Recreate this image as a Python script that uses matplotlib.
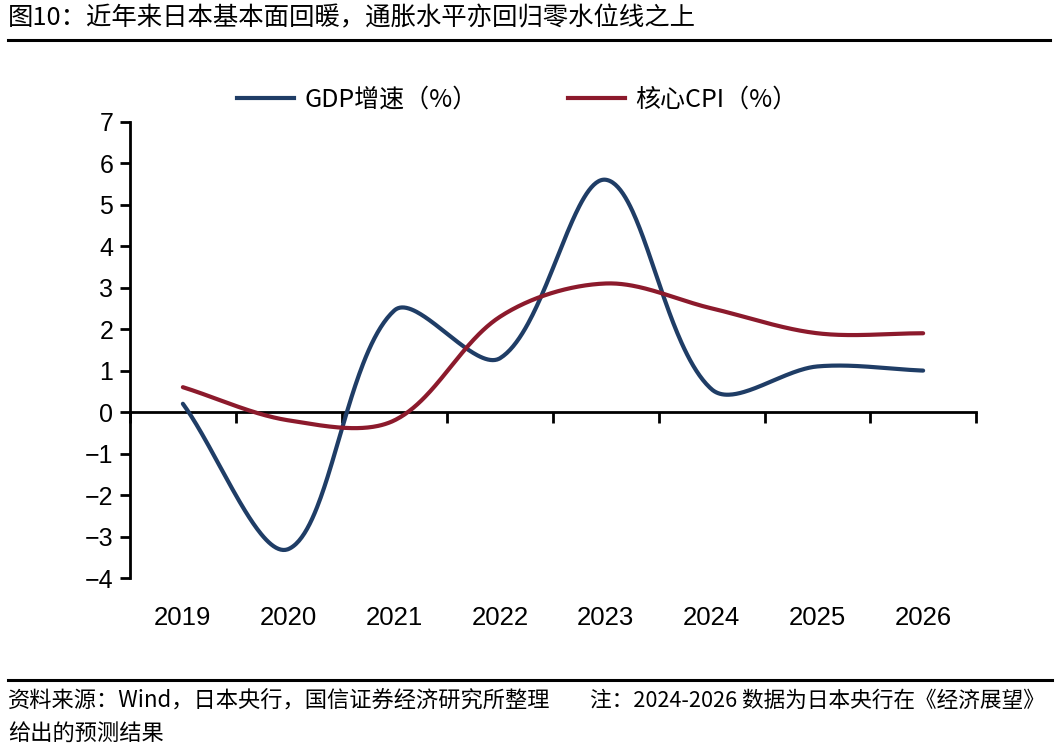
import numpy as np
import matplotlib
matplotlib.use("Agg")
import matplotlib.pyplot as plt
from matplotlib.lines import Line2D
from matplotlib.ticker import FixedLocator

# ---- data ----
years = ["2019", "2020", "2021", "2022", "2023", "2024", "2025", "2026"]
gdp_growth = [0.2, -3.3, 2.45, 1.3, 5.6, 0.55, 1.1, 1.0]
core_cpi = [0.6, -0.2, -0.2, 2.3, 3.1, 2.5, 1.9, 1.9]
y_ticks = [-4, -3, -2, -1, 0, 1, 2, 3, 4, 5, 6, 7]
series_names = ["GDP增速（%）", "核心CPI（%）"]

title = "图10：近年来日本基本面回暖，通胀水平亦回归零水位线之上"
source = "资料来源：Wind，日本央行，国信证券经济研究所整理"
note_1 = "注：2024-2026 数据为日本央行在《经济展望》"
note_2 = "给出的预测结果"

BLUE = "#1f3d66"
RED = "#8c1a2c"
CJK = ["Noto Sans CJK SC", "DejaVu Sans"]
NUM = ["Liberation Sans", "DejaVu Sans"]

W, H = 1059, 748
AX_L, AX_R, AX_T, AX_B = 130, 976, 121.7, 578
Y_MIN, Y_MAX = -4, 7
PX_X = (AX_R - AX_L) / len(years)          # pixels per category
PX_Y = (AX_B - AX_T) / (Y_MAX - Y_MIN)     # pixels per unit


def smooth(values, n=80):
    """Excel-like smoothed line: Bezier segments whose control points are
    weighted by neighbouring chord lengths (measured in screen space)."""
    y = np.asarray(values, float)
    x = np.arange(len(y), dtype=float)
    pts = np.column_stack([x * PX_X, y * PX_Y])
    m = len(pts)
    out = []
    for i in range(m - 1):
        p1, p2 = pts[i], pts[i + 1]
        p0 = pts[max(i - 1, 0)]
        p3 = pts[min(i + 2, m - 1)]
        d01 = np.linalg.norm(p1 - p0)
        d12 = np.linalg.norm(p2 - p1)
        d23 = np.linalg.norm(p3 - p2)
        f1 = d12 / (d01 + d12) / 3.0 if (d01 + d12) > 0 else 0
        f2 = d12 / (d12 + d23) / 3.0 if (d12 + d23) > 0 else 0
        b1 = p1 + (p2 - p0) * f1
        b2 = p2 - (p3 - p1) * f2
        t = np.linspace(0, 1, n, endpoint=(i == m - 2))[:, None]
        seg = ((1 - t) ** 3) * p1 + 3 * ((1 - t) ** 2) * t * b1 + 3 * (1 - t) * t ** 2 * b2 + t ** 3 * p2
        out.append(seg)
    out = np.vstack(out)
    return out[:, 0] / PX_X, out[:, 1] / PX_Y


fig = plt.figure(figsize=(W / 100, H / 100), dpi=100)
ax = fig.add_axes([AX_L / W, 1 - AX_B / H, (AX_R - AX_L) / W, (AX_B - AX_T) / H])

xs, ys = smooth(gdp_growth)
ax.plot(xs, ys, color=BLUE, lw=3.0, solid_capstyle="round", zorder=3)
xs, ys = smooth(core_cpi)
ax.plot(xs, ys, color=RED, lw=3.0, solid_capstyle="round", zorder=3)

ax.set_xlim(-0.5, len(years) - 0.5)
ax.set_ylim(Y_MIN, Y_MAX)
ax.set_yticks(y_ticks)
ax.tick_params(axis="y", direction="out", length=7, width=2, pad=5, labelsize=18)
for lab in ax.get_yticklabels():
    lab.set_fontfamily(NUM)

ax.spines["top"].set_visible(False)
ax.spines["right"].set_visible(False)
ax.spines["left"].set_linewidth(2)
ax.spines["bottom"].set_linewidth(2)
ax.spines["bottom"].set_position(("data", 0))

ax.set_xticks(range(len(years)))
ax.set_xticklabels([])
ax.tick_params(axis="x", which="major", length=0)
ax.xaxis.set_minor_locator(FixedLocator(np.arange(len(years) + 1) - 0.5))
ax.tick_params(axis="x", which="minor", direction="out", length=8, width=2)

sec = ax.secondary_xaxis("bottom")
sec.set_xticks(range(len(years)), labels=years)
sec.tick_params(length=0, pad=20, labelsize=18.5)
sec.spines["bottom"].set_visible(False)
for lab in sec.get_xticklabels():
    lab.set_fontfamily(NUM)

handles = [Line2D([], [], color=BLUE, lw=3.0), Line2D([], [], color=RED, lw=3.0)]
fig.legend(handles, series_names, loc="center", bbox_to_anchor=(517 / W, 1 - 100 / H),
           ncol=2, frameon=False, handlelength=2.3, handletextpad=0.4, columnspacing=3.6,
           prop={"family": CJK, "size": 18})

# title and rules
fig.text(8 / W, 1 - 18 / H, title, ha="left", va="center", fontsize=18.3, family=CJK)
fig.add_artist(Line2D([8 / W, 1050 / W], [1 - 39.5 / H, 1 - 39.5 / H], color="black", lw=2.2))
fig.add_artist(Line2D([8 / W, 1052 / W], [1 - 680 / H, 1 - 680 / H], color="black", lw=2.2))

fig.text(8 / W, 1 - 701 / H, source, ha="left", va="center", fontsize=16, family=CJK)
fig.text(590 / W, 1 - 701 / H, note_1, ha="left", va="center", fontsize=15.6, family=CJK)
fig.text(8 / W, 1 - 734 / H, note_2, ha="left", va="center", fontsize=16, family=CJK)

fig.savefig("out.png", dpi=100, facecolor="white")
